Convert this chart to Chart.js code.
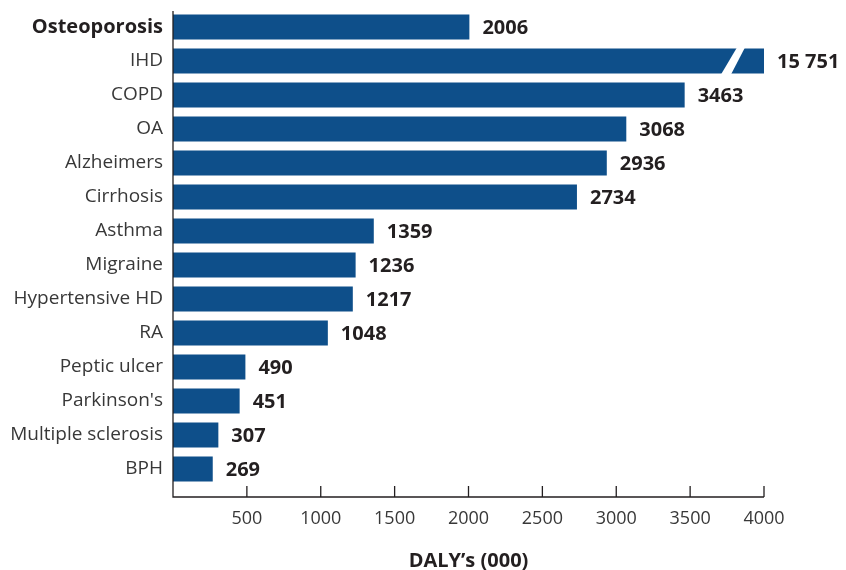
<!DOCTYPE html>
<html>
<head>
<meta charset="utf-8">
<script src="https://cdn.jsdelivr.net/npm/chart.js@4.4.0/dist/chart.umd.min.js"></script>
<style>
    html, body { margin: 0; padding: 0; background: #fff; }
    #wrap { width: 846px; height: 570px; }
</style>
</head>
<body>
<div id="wrap"><canvas id="grafico"></canvas></div>
<script>
// Datos
const categorias = ['Osteoporosis', 'IHD', 'COPD', 'OA', 'Alzheimers', 'Cirrhosis', 'Asthma', 'Migraine', 'Hypertensive HD', 'RA', 'Peptic ulcer', "Parkinson's", 'Multiple sclerosis', 'BPH'];
const dalys = [2006, 15751, 3463, 3068, 2936, 2734, 1359, 1236, 1217, 1048, 490, 451, 307, 269];
const ejeMax = 4000;
const ejePaso = 500;
const tituloEje = 'DALY\u2019s (000)';
const corte = 3790; // donde se corta la barra que se sale de escala

const colorBarra = '#0e4f8a';
const colorTexto = '#231f20';
const colorTextoSuave = '#383838';

function formato(v) {
    return v >= 10000 ? String(v).replace(/\B(?=(\d{3})+(?!\d))/g, ' ') : String(v);
}

// ejes a mano (ticks hacia dentro) + etiquetas de valor + corte
const ejesYEtiquetas = {
    id: 'ejesYEtiquetas',
    afterDatasetsDraw(chart) {
        const { ctx, chartArea, scales: { x } } = chart;
        const meta = chart.getDatasetMeta(0);
        ctx.save();
        meta.data.forEach((bar, i) => {
            if (dalys[i] > ejeMax) {
                const cx = x.getPixelForValue(corte);
                const top = bar.y - bar.height / 2 - 1;
                const bot = bar.y + bar.height / 2 + 1;
                ctx.fillStyle = '#fff';
                ctx.beginPath();
                ctx.moveTo(cx - 12, bot);
                ctx.lineTo(cx - 2, bot);
                ctx.lineTo(cx + 12, top);
                ctx.lineTo(cx + 4, top);
                ctx.closePath();
                ctx.fill();
            }
            ctx.fillStyle = colorTexto;
            ctx.font = 'bold 20px "Open Sans"';
            ctx.textBaseline = 'middle';
            ctx.textAlign = 'left';
            ctx.fillText(formato(dalys[i]), bar.x + 13, bar.y + 1);
        });

        const ejeY = 497;
        ctx.strokeStyle = colorTexto;
        ctx.lineWidth = 1.3;
        ctx.beginPath();
        ctx.moveTo(x.left, chartArea.top + 1);
        ctx.lineTo(x.left, ejeY);
        ctx.lineTo(x.right, ejeY);
        x.ticks.forEach(t => {
            if (t.value > 0) {
                const px = x.getPixelForValue(t.value);
                ctx.moveTo(px, ejeY);
                ctx.lineTo(px, ejeY - 11);
            }
        });
        ctx.stroke();
        ctx.restore();
    }
};

const ctx = document.getElementById('grafico').getContext('2d');
new Chart(ctx, {
    type: 'bar',
    data: {
        labels: categorias,
        datasets: [{
            data: dalys.map(v => Math.min(v, ejeMax)),
            backgroundColor: colorBarra,
            borderWidth: 0,
            barPercentage: 0.73,
            categoryPercentage: 1
        }]
    },
    options: {
        indexAxis: 'y',
        responsive: true,
        maintainAspectRatio: false,
        animation: false,
        layout: { padding: { top: 10, right: 82, left: 0, bottom: 0 } },
        plugins: {
            legend: { display: false },
            tooltip: { enabled: false }
        },
        scales: {
            x: {
                min: 0,
                max: ejeMax,
                grid: { display: false, drawTicks: false },
                border: { display: false },
                ticks: {
                    stepSize: ejePaso,
                    padding: 22,
                    color: colorTextoSuave,
                    font: { family: 'Open Sans', size: 18 },
                    maxRotation: 0,
                    callback: v => v === 0 ? '' : v
                },
                title: {
                    display: true,
                    text: tituloEje,
                    color: colorTexto,
                    padding: { top: 0, bottom: -3 },
                    font: { family: 'Open Sans', size: 20, weight: 'bold' }
                },
                afterFit: s => { s.height = 84; }
            },
            y: {
                grid: { display: false, drawTicks: false },
                border: { display: false },
                ticks: {
                    padding: 10,
                    color: c => c.index === 0 ? colorTexto : colorTextoSuave,
                    font: c => ({ family: 'Open Sans', size: c.index === 0 ? 20 : 19, weight: c.index === 0 ? 'bold' : 'normal' })
                },
                afterFit: s => { s.width = 173; s.paddingTop = 0; s.paddingBottom = 0; }
            }
        }
    },
    plugins: [ejesYEtiquetas]
});
</script>
</body>
</html>
